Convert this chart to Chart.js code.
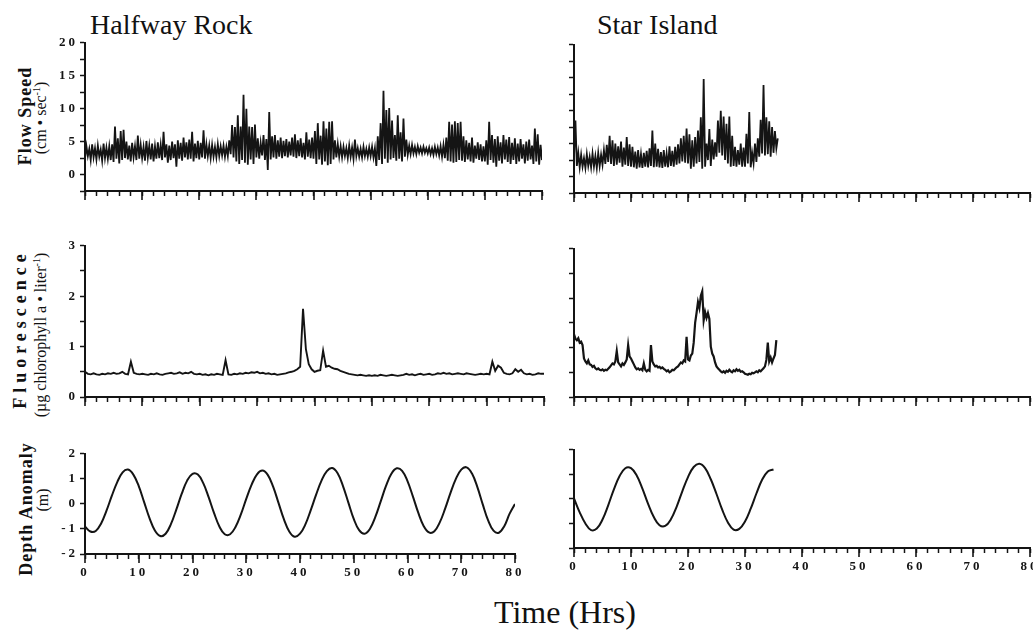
<!DOCTYPE html>
<html><head><meta charset="utf-8">
<script src="https://cdn.jsdelivr.net/npm/chart.js@4.4.1/dist/chart.umd.min.js"></script>
<style>
html,body{margin:0;padding:0;background:#fff;}
body{width:1033px;height:632px;position:relative;overflow:hidden;font-family:"Liberation Serif","Times New Roman",serif;color:#111;}
.box{position:absolute;}
.t{position:absolute;white-space:nowrap;line-height:1;}
.r{position:absolute;white-space:nowrap;line-height:1;transform:translate(-50%,-50%) rotate(-90deg);}
.b{font-weight:bold;font-size:18px;}
.s{font-size:16px;}
sup{font-size:10px;vertical-align:6px;}
</style></head><body>
<div class="t" style="left:90px;top:11px;font-size:28px;">Halfway Rock</div>
<div class="t" style="left:597px;top:11px;font-size:28px;">Star Island</div>
<div class="t" style="left:565px;top:596px;font-size:32px;transform:translateX(-50%);">Time (Hrs)</div>
<div class="r b" style="left:25px;top:116px;letter-spacing:1px;">Flow Speed</div>
<div class="r s" style="left:40px;top:118px;">(cm • sec<sup>-1</sup>)</div>
<div class="r b" style="left:20px;top:329px;letter-spacing:5px;">Fluorescence</div>
<div class="r s" style="left:40px;top:335px;">(µg chlorophyll a • liter<sup>-1</sup>)</div>
<div class="r b" style="left:26px;top:509px;letter-spacing:1px;">Depth Anomaly</div>
<div class="r s" style="left:43px;top:500px;">(m)</div>
<div id="root"></div>
<script>
// ---------- data (hours on x) ----------
const xMajorTicks = [0, 10, 20, 30, 40, 50, 60, 70, 80];
const flowTickLabels = [0, 5, 10, 15, 20];
const fluorTickLabels = [0, 1, 2, 3];
const depthTickLabels = [-2, -1, 0, 1, 2];

// Flow speed: lowest and highest reading in each 0.5 h slot
const halfwayFlowStep = 0.5;
const halfwayFlowHigh = [
 4.3,3.9,4.6,4.0,4.4,3.8,4.7,4.1,4.3,4.6,
 7.3,5.5,6.6,6.8,5.0,4.4,4.8,4.3,5.9,4.5,
 4.2,5.1,4.4,4.7,4.3,4.9,4.5,6.5,4.6,4.4,
 5.0,4.6,5.2,4.8,5.6,4.9,5.3,6.5,4.7,5.1,
 4.8,6.7,4.6,4.4,4.5,4.2,4.6,4.3,4.4,4.2,
 5.2,7.5,7.2,9.0,7.3,12.1,10.0,7.3,7.2,7.6,
 5.5,4.8,6.0,5.4,9.5,5.8,6.0,5.2,5.6,5.1,
 5.4,5.0,5.6,6.1,5.2,5.5,4.8,6.4,5.3,5.6,
 6.6,7.8,5.9,8.1,7.0,8.0,8.1,5.2,4.6,4.3,
 4.2,4.0,4.4,4.1,5.3,4.0,3.9,4.2,3.9,4.1,
 4.2,4.0,5.8,7.8,12.7,9.8,10.1,8.2,6.0,9.0,
 6.4,8.5,5.3,4.4,4.5,4.2,4.3,4.1,4.2,4.0,
 4.1,4.0,4.2,4.1,4.3,4.5,5.6,8.0,7.6,8.1,
 7.8,8.0,5.8,5.2,4.8,5.6,4.4,4.9,4.6,4.3,
 5.2,8.0,6.0,5.4,5.8,4.9,6.0,5.3,5.7,4.8,
 5.5,4.7,5.4,4.6,5.0,5.3,4.4,7.0,6.1,4.5,4.2
];
const halfwayFlowLow = [
 2.4,2.8,2.2,2.6,2.3,2.7,2.1,2.5,2.4,2.2,
 1.9,2.4,1.7,2.2,2.5,2.3,2.0,2.6,2.2,2.4,
 2.5,2.1,2.6,2.3,2.0,2.4,2.5,2.2,2.6,1.8,
 2.2,2.5,1.2,2.4,2.1,2.6,2.3,2.4,2.0,2.5,
 2.3,2.6,2.4,2.8,2.5,2.7,2.6,2.8,2.9,2.7,
 2.8,3.1,2.6,2.0,1.6,2.2,1.8,1.5,2.3,1.6,
 2.6,2.4,2.9,2.2,0.7,2.3,2.6,2.4,2.7,2.5,
 2.8,2.6,2.9,2.7,2.5,2.8,2.6,2.3,2.7,2.5,
 2.4,1.6,2.3,1.5,2.0,1.4,1.6,2.3,2.6,2.7,
 2.6,2.8,2.5,2.7,2.4,2.8,2.7,2.6,2.8,2.7,
 2.8,2.6,1.3,2.2,1.6,2.4,1.8,2.3,2.5,2.1,
 2.4,2.0,2.7,3.0,3.1,3.2,3.1,3.3,3.2,3.3,
 3.2,3.1,3.0,3.1,2.9,2.7,2.5,2.1,2.0,1.8,
 1.9,2.2,2.1,1.9,2.3,2.0,1.8,2.4,2.2,2.0,
 2.0,1.5,2.2,1.8,1.2,2.1,1.7,2.3,1.9,1.6,
 2.2,1.6,2.0,2.4,1.7,2.1,2.3,1.6,2.0,1.5,2.2
];

const starFlowStep = 0.5;
const starFlowHigh = [
 8.5,3.6,3.3,2.8,3.4,3.0,3.5,3.1,3.6,3.3,
 4.0,4.8,6.2,5.5,5.0,4.6,5.3,4.4,6.0,4.9,
 4.5,3.8,4.0,3.4,3.6,3.9,4.3,7.0,5.0,4.2,
 3.7,4.0,3.5,4.6,3.9,4.5,4.9,5.8,6.2,7.3,
 6.4,5.5,6.0,7.0,9.0,14.8,5.0,7.2,5.6,5.2,
 8.5,10.0,9.1,8.0,9.1,6.2,4.5,4.0,5.0,4.4,
 6.5,9.8,3.6,5.0,5.8,8.6,13.9,9.0,8.4,7.5,
 6.9,5.8
];
const starFlowLow = [
 3.0,1.6,1.4,1.5,1.3,1.6,1.4,1.5,1.3,1.6,
 1.8,1.9,2.2,1.9,1.6,1.8,2.1,1.5,1.8,1.6,
 1.5,1.4,1.2,1.4,1.3,1.5,1.4,1.6,1.4,1.5,
 1.4,1.3,1.5,1.4,1.6,1.5,1.8,2.0,2.3,2.1,
 2.0,1.2,1.5,2.0,2.2,1.2,1.5,2.5,1.6,2.6,
 3.0,3.6,3.2,2.5,2.0,1.5,1.6,1.5,1.8,1.5,
 1.5,2.0,1.4,2.0,2.2,3.0,3.5,3.2,3.4,3.0,
 3.6,4.3
];

const halfwayFluorStep = 0.5;
const halfwayFluor = [
 0.50,0.46,0.45,0.47,0.45,0.44,0.46,0.45,0.47,0.46,
 0.48,0.46,0.47,0.50,0.46,0.45,0.70,0.48,0.46,0.45,
 0.46,0.45,0.44,0.46,0.45,0.47,0.45,0.44,0.46,0.47,
 0.48,0.46,0.47,0.49,0.46,0.48,0.47,0.50,0.46,0.45,
 0.46,0.44,0.45,0.43,0.45,0.44,0.46,0.45,0.44,0.73,
 0.45,0.44,0.46,0.45,0.47,0.46,0.48,0.47,0.49,0.48,
 0.50,0.47,0.48,0.46,0.47,0.45,0.46,0.44,0.45,0.46,
 0.47,0.49,0.50,0.52,0.55,0.60,1.75,0.95,0.65,0.55,
 0.50,0.52,0.53,0.92,0.60,0.62,0.58,0.56,0.55,0.52,
 0.50,0.48,0.46,0.45,0.44,0.43,0.44,0.43,0.42,0.43,
 0.42,0.43,0.42,0.44,0.43,0.42,0.43,0.44,0.43,0.42,
 0.43,0.44,0.46,0.44,0.45,0.43,0.45,0.46,0.44,0.45,
 0.46,0.44,0.45,0.47,0.46,0.48,0.46,0.47,0.45,0.46,
 0.47,0.46,0.45,0.47,0.46,0.45,0.44,0.45,0.46,0.45,
 0.46,0.45,0.70,0.52,0.62,0.58,0.48,0.46,0.45,0.47,
 0.55,0.50,0.54,0.47,0.45,0.46,0.44,0.45,0.47,0.46,0.46
];

const starFluorStep = 0.25;
const starFluor = [
 1.27,1.18,1.15,1.19,1.10,1.12,1.05,0.78,0.72,0.68,0.74,0.66,
 0.65,0.61,0.63,0.58,0.56,0.58,0.55,0.54,0.56,0.53,0.55,0.54,
 0.57,0.60,0.64,0.68,0.66,0.72,0.93,0.70,0.66,0.62,0.68,0.65,
 0.70,0.76,1.05,0.82,0.78,0.72,0.66,0.60,0.56,0.58,0.55,0.57,
 0.54,0.68,0.55,0.52,0.55,0.53,1.05,0.72,0.66,0.62,0.63,0.60,
 0.61,0.58,0.60,0.57,0.55,0.52,0.54,0.50,0.52,0.55,0.54,0.57,
 0.60,0.62,0.66,0.70,0.68,0.74,0.72,1.22,0.76,0.74,0.84,0.88,
 1.10,1.50,1.70,1.92,1.80,2.05,2.14,1.55,1.72,1.60,1.70,1.58,
 1.02,0.88,0.82,0.70,0.62,0.58,0.55,0.52,0.50,0.52,0.49,0.53,
 0.51,0.55,0.52,0.50,0.54,0.52,0.56,0.53,0.55,0.51,0.52,0.50,
 0.47,0.46,0.45,0.47,0.46,0.49,0.48,0.50,0.52,0.50,0.54,0.52,
 0.55,0.58,0.62,0.75,1.10,0.72,0.80,0.70,0.78,0.85,1.15
];

const depthStep = 1;
const halfwayDepth = [
 -0.90,-1.10,-1.08,-0.78,-0.27,0.33,0.87,1.26,1.37,1.17,
 0.71,0.07,-0.57,-1.06,-1.28,-1.19,-0.80,-0.22,0.41,0.93,
 1.20,1.17,0.83,0.27,-0.36,-0.90,-1.21,-1.21,-0.92,-0.42,
 0.20,0.77,1.18,1.33,1.16,0.69,0.04,-0.61,-1.10,-1.31,
 -1.19,-0.82,-0.25,0.37,0.93,1.31,1.43,1.22,0.71,0.05,
 -0.60,-1.05,-1.19,-1.00,-0.53,0.09,0.72,1.20,1.42,1.32,
 0.91,0.30,-0.35,-0.88,-1.14,-1.09,-0.74,-0.19,0.44,1.00,
 1.37,1.46,1.21,0.67,-0.02,-0.66,-1.07,-1.15,-0.89,-0.39,
 0.00
];
const starDepth = [
 0.02,-0.55,-1.00,-1.27,-1.21,-0.84,-0.26,0.39,0.93,1.25,
 1.25,0.95,0.42,-0.20,-0.74,-1.07,-1.10,-0.83,-0.32,0.31,
 0.89,1.30,1.43,1.25,0.80,0.20,-0.44,-0.96,-1.25,-1.22,
 -0.92,-0.40,0.22,0.78,1.12,1.20
];

// ---------- drawing ----------
const INK = '#141414';
const YW = 45, PT = 8, PR = 16;
const toPoints = (arr, step) => arr.map((v, i) => ({x: i * step, y: v}));
// min/max per slot drawn as one trace: low at slot start, high half a slot later
const minMaxTrace = (low, high, step) => low.flatMap((v, i) => [{x: i * step, y: v}, {x: i * step + step / 2, y: high[i]}]);
const lineSet = (pts, lw, smooth) => ({data:pts, borderColor:INK, borderWidth:lw, pointRadius:0,
  tension:smooth ? 0.4 : 0, fill:false});

const spacingPlugin = {id:'spacing', beforeDraw(c){ c.ctx.letterSpacing = '3px'; }};
const majorTickPlugin = {id:'majorTicks', afterDraw(c){
  const sx = c.scales.x, ctx = c.ctx, b = c.chartArea.bottom;
  ctx.save(); ctx.strokeStyle = INK; ctx.lineWidth = 1.6;
  xMajorTicks.forEach(v => { const p = Math.round(sx.getPixelForValue(v));
    ctx.beginPath(); ctx.moveTo(p, b); ctx.lineTo(p, b + 9); ctx.stroke(); });
  ctx.restore();
}};

function panel(o){
  const plotW = o.right - o.axisX, plotH = o.bottom - o.top;
  const XH = o.xLabels ? 32 : 14;
  const W = YW + plotW + PR, H = PT + plotH + XH;
  const box = document.createElement('div');
  box.className = 'box';
  box.style.left = (o.axisX - YW) + 'px'; box.style.top = (o.top - PT) + 'px';
  box.style.width = W + 'px'; box.style.height = H + 'px';
  const cv = document.createElement('canvas'); cv.width = W; cv.height = H;
  cv.style.width = W + 'px'; cv.style.height = H + 'px';
  box.appendChild(cv); document.getElementById('root').appendChild(box);
  const tickFont = {family:'"Liberation Serif", serif', weight:'bold', size:13};
  new Chart(cv, {
    type:'line',
    data:{datasets:o.datasets},
    options:{
      responsive:false, devicePixelRatio:1, animation:false,
      layout:{autoPadding:false, padding:{top:PT, right:PR, left:0, bottom:0}},
      plugins:{legend:{display:false}, tooltip:{enabled:false}},
      scales:{
        x:{type:'linear', min:0, max:80,
          afterFit(s){ s.height = XH; },
          border:{display:true, color:INK, width:2},
          grid:{display:true, drawOnChartArea:false, drawTicks:true, tickLength:5, tickColor:INK, tickWidth:1.5},
          ticks:{stepSize:2, autoSkip:false, maxRotation:0, padding:6, color:INK, font:tickFont,
            callback:(v) => (o.xLabels && xMajorTicks.includes(Math.round(v)) && Math.abs(v - Math.round(v)) < 1e-6) ? String(Math.round(v)) : ''}},
        y:{type:'linear', min:o.ymin, max:o.ymax,
          afterFit(s){ s.width = YW; },
          border:{display:true, color:INK, width:2},
          grid:{display:true, drawOnChartArea:false, drawTicks:true, tickLength:5, tickColor:INK, tickWidth:1.5},
          ticks:{stepSize:o.ystep, autoSkip:false, padding:2, color:INK, font:tickFont,
            callback:(v) => (o.yLabels && o.yLabels.some(t => Math.abs(t - v) < 1e-6)) ? String(Math.round(v)) : ''}}
      }
    },
    plugins:[spacingPlugin, majorTickPlugin]
  });
}

panel({axisX:85, right:542, top:41, bottom:191, ymin:-2.5, ymax:20, ystep:2.5, yLabels:flowTickLabels, xLabels:false,
  datasets:[lineSet(minMaxTrace(halfwayFlowLow, halfwayFlowHigh, halfwayFlowStep), 1.8, false)]});
panel({axisX:574, right:1030, top:43, bottom:193, ymin:-2.5, ymax:20, ystep:2.5, yLabels:null, xLabels:false,
  datasets:[lineSet(minMaxTrace(starFlowLow, starFlowHigh, starFlowStep), 1.8, false)]});
panel({axisX:85, right:544, top:244, bottom:397, ymin:0, ymax:3, ystep:0.5, yLabels:fluorTickLabels, xLabels:false,
  datasets:[lineSet(toPoints(halfwayFluor, halfwayFluorStep), 1.9, false)]});
panel({axisX:574, right:1030, top:247, bottom:397, ymin:0, ymax:3, ystep:0.5, yLabels:null, xLabels:false,
  datasets:[lineSet(toPoints(starFluor, starFluorStep), 2.2, false)]});
panel({axisX:85, right:515, top:452, bottom:554, ymin:-2, ymax:2, ystep:1, yLabels:depthTickLabels, xLabels:true,
  datasets:[lineSet(toPoints(halfwayDepth, depthStep), 2, true)]});
panel({axisX:574, right:1030, top:448, bottom:548, ymin:-2, ymax:2, ystep:1, yLabels:null, xLabels:true,
  datasets:[lineSet(toPoints(starDepth, depthStep), 2, true)]});
</script>
</body></html>
